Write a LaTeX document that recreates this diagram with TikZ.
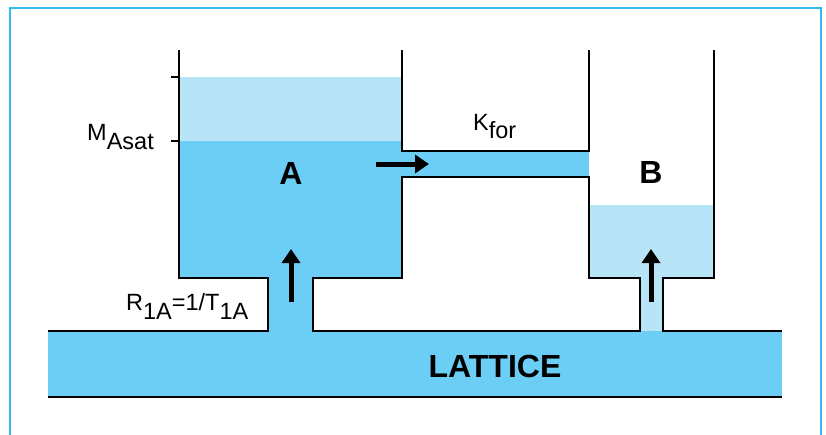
\documentclass[tikz,border=0pt]{standalone}
\usepackage{fontspec}
\setmainfont{Liberation Sans}
\usetikzlibrary{arrows.meta}
\definecolor{darkfill}{HTML}{6CCEF5}
\definecolor{lightfill}{HTML}{B8E4F8}
\definecolor{framecol}{HTML}{33B9EE}
\tikzset{
  wall/.style={draw=black,line width=2.8pt,line join=miter},
  bigarrow/.style={line width=5pt,-{Triangle[width=18pt,length=14pt]}},
  lab/.style={font=\fontsize{23.5}{25}\selectfont,inner sep=0pt},
  biglab/.style={font=\fontsize{32}{34}\selectfont\bfseries,inner sep=0pt},
}
\begin{document}
\begin{tikzpicture}[x=1pt,y=-1pt]
\useasboundingbox (0,0) rectangle (826,434);
% frame
\draw[framecol,line width=1.2pt] (10,440) -- (10,8) -- (821,8) -- (821,440);
% fills
\fill[lightfill] (179,77) rectangle (402,141);
\fill[darkfill] (179,141) rectangle (402,278);
\fill[darkfill] (402,151) rectangle (589,177);
\fill[darkfill] (268,276) rectangle (313,331);
\fill[darkfill] (48,331) rectangle (782,397);
\fill[lightfill] (589,205) rectangle (714,278);
\fill[lightfill] (640,276) rectangle (663,331);
% walls
\draw[wall] (179,50) -- (179,278) -- (268,278) -- (268,331) -- (48,331);
\draw[wall] (402,50) -- (402,151) -- (589,151) -- (589,50);
\draw[wall] (313,331) -- (313,278) -- (402,278) -- (402,177) -- (589,177) -- (589,278) -- (640,278) -- (640,331) -- cycle;
\draw[wall] (782,331) -- (663,331) -- (663,278) -- (714,278) -- (714,50);
\draw[wall] (48,397) -- (782,397);
\draw[wall] (171,77) -- (179,77);
\draw[wall] (171,141) -- (179,141);
% arrows
\coordinate (a1s) at (291,302); \coordinate (a1e) at (291,249);
\coordinate (a2s) at (651,302); \coordinate (a2e) at (651,249);
\coordinate (a3s) at (376,164); \coordinate (a3e) at (429,164);
\draw[bigarrow] (a1s) -- (a1e);
\draw[bigarrow] (a2s) -- (a2e);
\draw[bigarrow] (a3s) -- (a3e);
% labels
\node[biglab,anchor=base] (A) at (291,184) {A};
\node[biglab,anchor=base] (B) at (651,183) {B};
\node[biglab,anchor=base] (lat) at (495,377) {LATTICE};
\node[lab,anchor=base west] (msat) at (87,140) {M\raisebox{-9pt}{Asat}};
\node[lab,anchor=base west] (kfor) at (473,130) {K\raisebox{-8pt}{for}};
\node[lab,anchor=base west] (r1a) at (126,310) {R\raisebox{-9pt}{1A}=1/T\raisebox{-9pt}{1A}};
\end{tikzpicture}
\end{document}
